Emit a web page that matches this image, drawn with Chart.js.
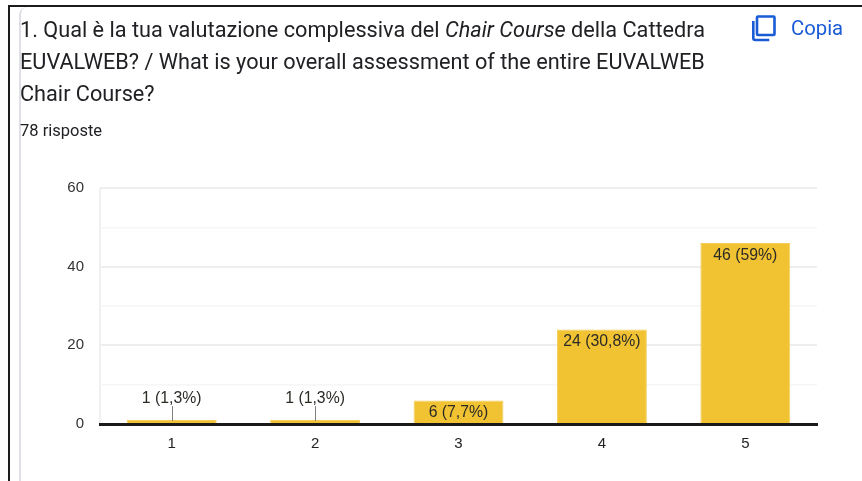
<!DOCTYPE html>
<html>
  <head>
    <meta charset="utf-8">
    <style type="text/css">
      body { margin: 0; background: #fff; overflow: hidden; }
      .page { position: relative; width: 862px; height: 481px; overflow: hidden; }
      .frame-top { position: absolute; left: 8px; top: 5px; right: 0; height: 2px; background: #1c1c1c; }
      .frame-left { position: absolute; left: 8px; top: 5px; bottom: 0; width: 2px; background: #1c1c1c; }
      .card-edge { position: absolute; left: 19px; top: 7px; bottom: -10px; width: 20px; border-left: 2px solid #dfdfe6; border-top-left-radius: 8px; }
      canvas { position: absolute; left: 0; top: 0; }
      .line { position: absolute; left: 20px; white-space: nowrap; font-family: Roboto, sans-serif; font-size: 21.7px; color: #202124; }
      .count { position: absolute; left: 20px; top: 121px; font-family: Roboto, sans-serif; font-size: 16.5px; color: #202124; }
      .copy { position: absolute; left: 791px; top: 16px; font-family: Roboto, sans-serif; font-size: 20.3px; color: #1a5bd6; }
      svg { position: absolute; left: 751px; top: 14px; }
    </style>
  </head>
  <body>
    <div class="page">
      <canvas id="myChart" width="862" height="481"></canvas>
      <div class="frame-top"></div>
      <div class="frame-left"></div>
      <div class="card-edge"></div>
      <div class="line" style="top:17px">1. Qual è la tua valutazione complessiva del <i>Chair Course</i> della Cattedra</div>
      <div class="line" style="top:49px">EUVALWEB? / What is your overall assessment of the entire EUVALWEB</div>
      <div class="line" style="top:81px">Chair Course?</div>
      <div class="count">78 risposte</div>
      <svg width="26" height="28" viewBox="0 0 26 28">
        <path d="M7 2.5h15.5a1 1 0 0 1 1 1V20a1 1 0 0 1-1 1H7a1 1 0 0 1-1-1V3.5a1 1 0 0 1 1-1z" fill="none" stroke="#1a5bd6" stroke-width="2.6"/>
        <path d="M2.3 7v17a2 2 0 0 0 2 2h14" fill="none" stroke="#1a5bd6" stroke-width="2.6"/>
      </svg>
      <div class="copy">Copia</div>
    </div>

    <script src="https://cdn.jsdelivr.net/npm/chart.js@4"></script>
    <script>
      /* datas */
      const categories = ["1", "2", "3", "4", "5"];
      const counts = [1, 1, 6, 24, 46];
      const percents = ["1,3%", "1,3%", "7,7%", "30,8%", "59%"];
      const yLabels = [0, 20, 40, 60];

      // writes "n (p%)" on each bar, small bars get it above with a little leader line
      const barLabels = {
        id: 'barLabels',
        afterDatasetsDraw(chart) {
          const ctx = chart.ctx;
          const meta = chart.getDatasetMeta(0);
          ctx.save();
          ctx.font = '15.8px "Liberation Sans", Arial, sans-serif';
          ctx.textAlign = 'center';
          ctx.textBaseline = 'middle';
          meta.data.forEach((bar, i) => {
            const text = counts[i] + ' (' + percents[i] + ')';
            ctx.fillStyle = '#2b2b26';
            if (counts[i] < 3) {
              ctx.strokeStyle = '#7f7f7f';
              ctx.lineWidth = 1;
              ctx.beginPath();
              ctx.moveTo(Math.round(bar.x) + 0.5, bar.y - 14);
              ctx.lineTo(Math.round(bar.x) + 0.5, bar.y + 1);
              ctx.stroke();
              ctx.fillText(text, bar.x, bar.y - 21);
            } else {
              ctx.fillText(text, bar.x, bar.y + 12.5);
            }
          });
          ctx.restore();
        }
      };

      const myChart = new Chart('myChart', {
        type: 'bar',
        data: {
          labels: categories,
          datasets: [{
            data: counts,
            backgroundColor: '#f1c232',
            borderColor: '#f3cc5c',
            borderWidth: 1,
            categoryPercentage: 1,
            barPercentage: 0.627
          }]
        },
        plugins: [barLabels],
        options: {
          responsive: false,
          animation: false,
          layout: { padding: { top: 188, right: 45, left: 0, bottom: 0 } },
          plugins: { legend: { display: false }, tooltip: { enabled: false } },
          scales: {
            x: {
              afterFit: (scale) => { scale.height = 57; },
              border: { color: '#1a1a1a', width: 3, z: 1 },
              grid: {
                offset: true,
                drawTicks: false,
                lineWidth: 2,
                color: (c) => (c.index === 0 || c.index === categories.length) ? '#f0f0f0' : 'rgba(0,0,0,0)'
              },
              ticks: {
                padding: 11,
                color: '#222',
                font: { family: '"Liberation Sans", Arial, sans-serif', size: 15 }
              }
            },
            y: {
              min: 0,
              max: 60,
              afterFit: (scale) => { scale.width = 100; },
              border: { display: false },
              grid: {
                drawTicks: false,
                lineWidth: (c) => c.tick.value % 20 === 0 ? 2 : 1.5,
                color: (c) => c.tick.value % 20 === 0 ? '#eeeeee' : '#f6f6f6'
              },
              ticks: {
                stepSize: 10,
                padding: 16,
                autoSkip: false,
                color: '#333',
                font: { family: '"Liberation Sans", Arial, sans-serif', size: 15 },
                callback: (value) => yLabels.includes(value) ? value : ''
              }
            }
          }
        }
      });
    </script>
  </body>
</html>
